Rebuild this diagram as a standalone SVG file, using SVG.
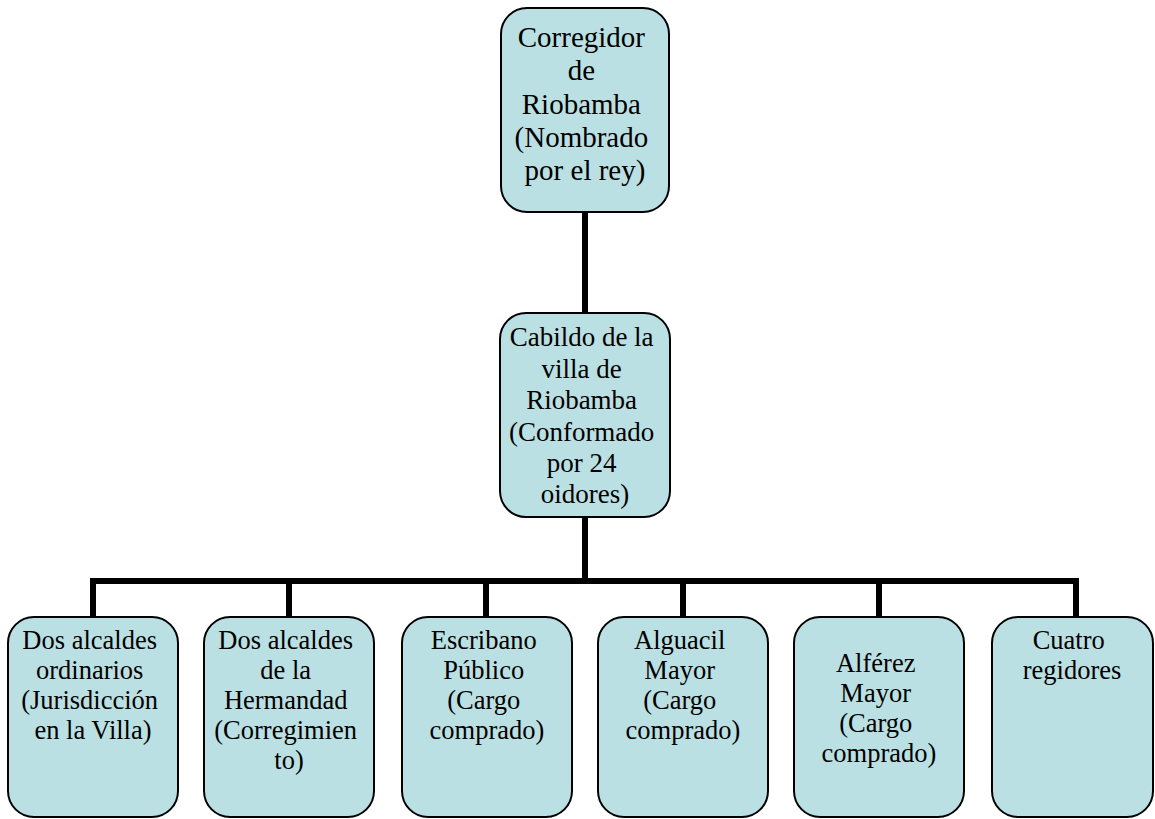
<svg xmlns="http://www.w3.org/2000/svg" width="1155" height="819" viewBox="0 0 1155 819">
  <style>
    .box { fill: #bae0e3; stroke: #000; stroke-width: 2; }
    .lbl { font-family: "Liberation Serif", "Times New Roman", serif; fill: #000; text-anchor: middle; }
    .t29 { font-size: 29px; }
    .t27 { font-size: 27px; }
    .t26 { font-size: 26.5px; }
    .wire { fill: none; stroke: #000; stroke-width: 6; stroke-linecap: butt; stroke-linejoin: miter; }
  </style>
  <rect width="1155" height="819" fill="#fff"/>

  <!-- connectors -->
  <g id="connectors">
    <path class="wire" d="M585 212 V315"/>
    <path class="wire" d="M585 517 V581"/>
    <path class="wire" d="M93 617 V581 H1076 V617"/>
    <path class="wire" d="M289 581 V617"/>
    <path class="wire" d="M486 581 V617"/>
    <path class="wire" d="M683 581 V617"/>
    <path class="wire" d="M879 581 V617"/>
  </g>

  <!-- top -->
  <g id="corregidor">
    <rect class="box" x="501" y="8" width="168" height="204" rx="26"/>
    <text class="lbl t29" x="585">
      <tspan x="585" y="47">Corregidor</tspan>
      <tspan x="585" y="80">de</tspan>
      <tspan x="585" y="114">Riobamba</tspan>
      <tspan x="585" y="147">(Nombrado</tspan>
      <tspan x="585" y="180">por el rey)</tspan>
    </text>
  </g>

  <!-- council -->
  <g id="cabildo">
    <rect class="box" x="500" y="313" width="170" height="204" rx="26"/>
    <text class="lbl t27" x="585">
      <tspan x="585" y="346">Cabildo de la</tspan>
      <tspan x="585" y="378">villa de</tspan>
      <tspan x="585" y="409">Riobamba</tspan>
      <tspan x="585" y="441">(Conformado</tspan>
      <tspan x="585" y="472">por 24</tspan>
      <tspan x="585" y="503">oidores)</tspan>
    </text>
  </g>

  <!-- offices -->
  <g id="alcaldes-ordinarios">
    <rect class="box" x="8" y="617" width="170" height="200" rx="26"/>
    <text class="lbl t26">
      <tspan x="93" y="649">Dos alcaldes</tspan>
      <tspan x="93" y="679">ordinarios</tspan>
      <tspan x="93" y="709">(Jurisdicción</tspan>
      <tspan x="93" y="739">en la Villa)</tspan>
    </text>
  </g>

  <g id="alcaldes-hermandad">
    <rect class="box" x="204" y="617" width="170" height="200" rx="26"/>
    <text class="lbl t26">
      <tspan x="289" y="649">Dos alcaldes</tspan>
      <tspan x="289" y="679">de la</tspan>
      <tspan x="289" y="709">Hermandad</tspan>
      <tspan x="289" y="739">(Corregimien</tspan>
      <tspan x="289" y="769">to)</tspan>
    </text>
  </g>

  <g id="escribano">
    <rect class="box" x="402" y="617" width="170" height="200" rx="26"/>
    <text class="lbl t26">
      <tspan x="487" y="649">Escribano</tspan>
      <tspan x="487" y="679">Público</tspan>
      <tspan x="487" y="709">(Cargo</tspan>
      <tspan x="487" y="739">comprado)</tspan>
    </text>
  </g>

  <g id="alguacil">
    <rect class="box" x="598" y="617" width="170" height="200" rx="26"/>
    <text class="lbl t26">
      <tspan x="683" y="649">Alguacil</tspan>
      <tspan x="683" y="679">Mayor</tspan>
      <tspan x="683" y="709">(Cargo</tspan>
      <tspan x="683" y="739">comprado)</tspan>
    </text>
  </g>

  <g id="alferez">
    <rect class="box" x="794" y="617" width="170" height="200" rx="26"/>
    <text class="lbl t26">
      <tspan x="879" y="672">Alférez</tspan>
      <tspan x="879" y="702">Mayor</tspan>
      <tspan x="879" y="732">(Cargo</tspan>
      <tspan x="879" y="762">comprado)</tspan>
    </text>
  </g>

  <g id="regidores">
    <rect class="box" x="992" y="617" width="161" height="200" rx="26"/>
    <text class="lbl t26">
      <tspan x="1072" y="649">Cuatro</tspan>
      <tspan x="1072" y="679">regidores</tspan>
    </text>
  </g>
</svg>
